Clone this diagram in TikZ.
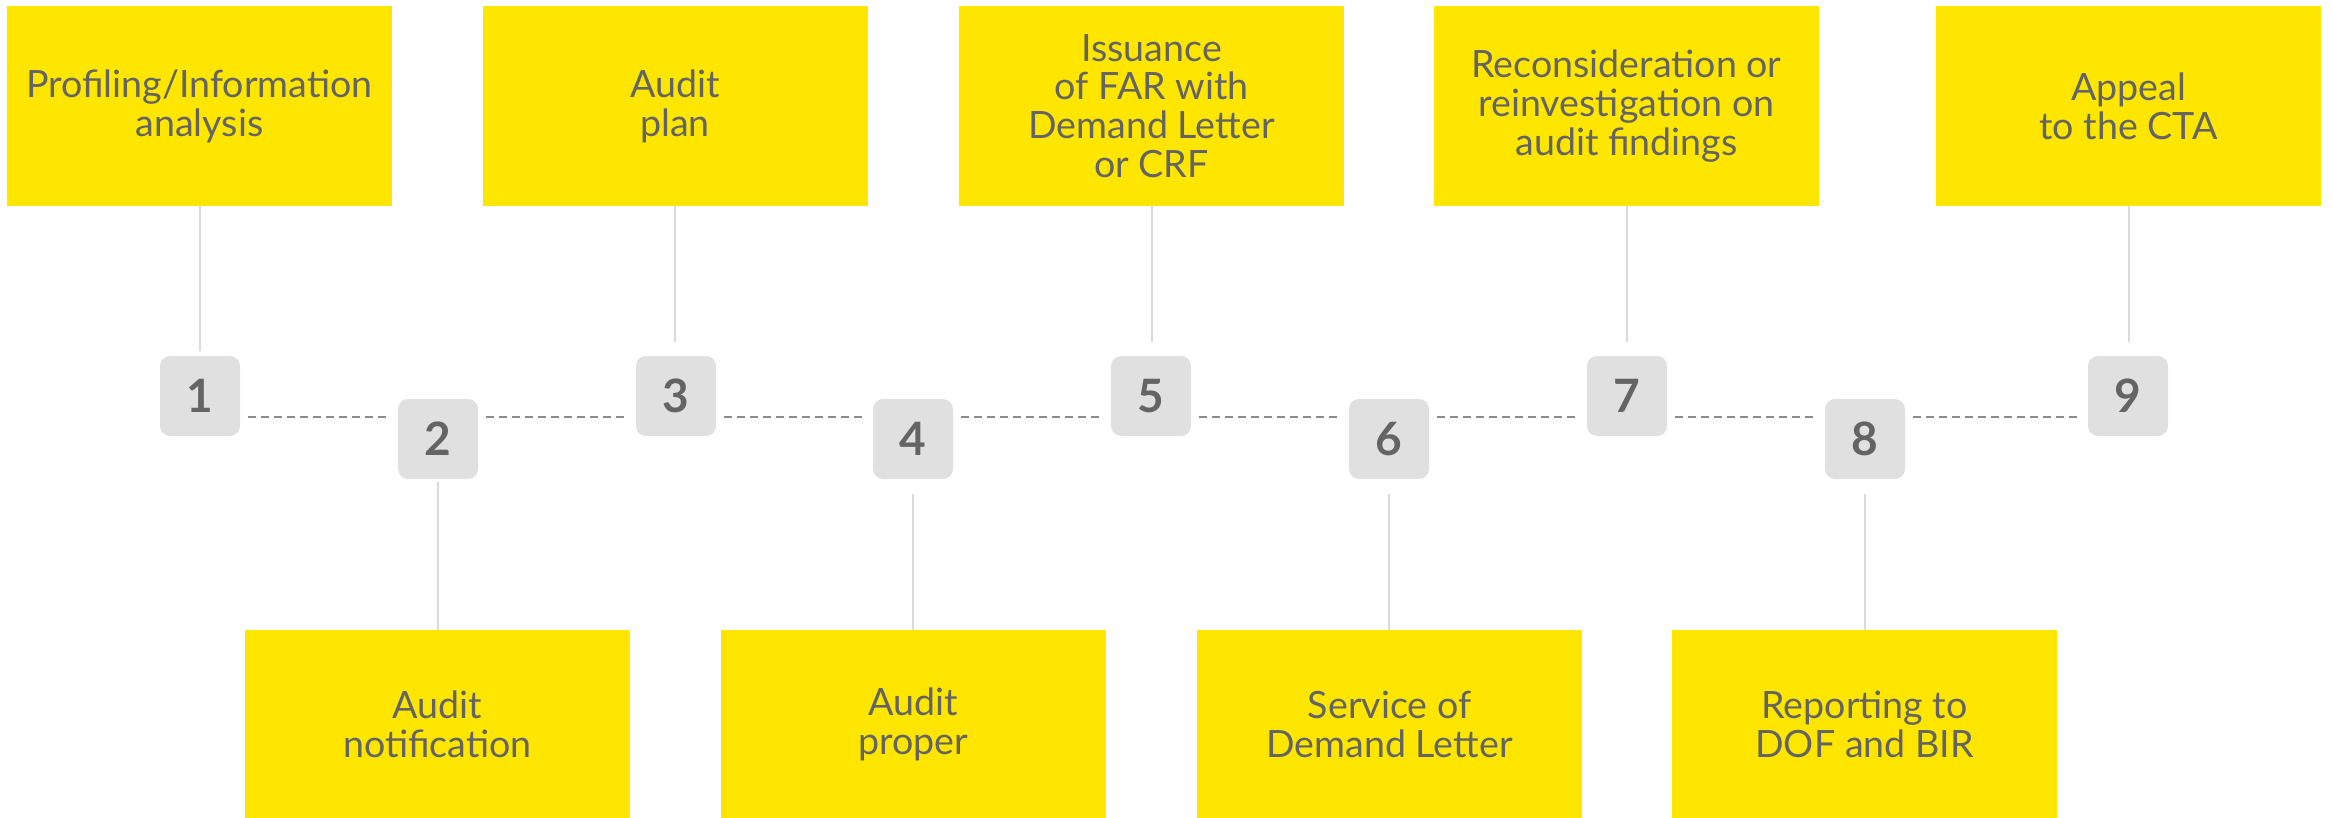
\documentclass[tikz,border=0pt]{standalone}
\usepackage{fontspec}
\setmainfont{Lato}
\definecolor{eyyellow}{HTML}{FFE600}
\definecolor{inkgray}{HTML}{646464}
\definecolor{badgegray}{HTML}{E0E0E0}
\definecolor{stemgray}{HTML}{DADADA}
\definecolor{dashgray}{HTML}{8C8C8C}
\tikzset{
  stepbox/.style={fill=eyyellow, minimum width=192.5pt, inner sep=0pt, align=center,
    text=inkgray, font=\fontsize{18.8}{19.4}\selectfont},
  topbox/.style={stepbox, minimum height=100pt},
  botbox/.style={stepbox, minimum height=94.5pt},
  badge/.style={fill=badgegray, rounded corners=5pt, minimum size=40pt, inner sep=0pt,
    text=inkgray, font=\fontsize{23}{23}\selectfont\bfseries},
  stem/.style={draw=stemgray, line width=1pt},
  link/.style={draw=dashgray, line width=1.2pt, dash pattern=on 4pt off 2.5pt,
    shorten <=4pt, shorten >=5pt},
}
\begin{document}
\begin{tikzpicture}[x=0.5pt, y=-0.5pt]
\useasboundingbox (0,0) rectangle (2332,818);

% step boxes, top row
\node[topbox] (b1) at (199.5,106) {Profiling/Information\\analysis};
\node[topbox] (b3) at (675,106) {Audit\\plan};
\node[topbox] (b5) at (1151.5,106) {Issuance\\of FAR with\\Demand Letter\\or CRF};
\node[topbox] (b7) at (1626.5,106) {Reconsideration or\\reinvestigation on\\audit findings};
\node[topbox] (b9) at (2128.5,106) {Appeal\\to the CTA};

% step boxes, bottom row
\node[botbox] (b2) at (437.5,724.5) {Audit\\notification};
\node[botbox] (b4) at (913,724.5) {Audit\\proper};
\node[botbox] (b6) at (1389.5,724.5) {Service of\\Demand Letter};
\node[botbox] (b8) at (1864.5,724.5) {Reporting to\\DOF and BIR};

% numbered badges
\node[badge] (n1) at (200,396) {1};
\node[badge] (n2) at (438,439) {2};
\node[badge] (n3) at (676,396) {3};
\node[badge] (n4) at (913,439) {4};
\node[badge] (n5) at (1151,396) {5};
\node[badge] (n6) at (1389,439) {6};
\node[badge] (n7) at (1627,396) {7};
\node[badge] (n8) at (1865,439) {8};
\node[badge] (n9) at (2128,396) {9};

% vertical stems from the boxes to the badges
\draw[stem, shorten >=2.5pt] (b1.south) -- (b1.south |- n1.north);
\foreach \i in {3,5,7,9}
  \draw[stem, shorten >=7pt] (b\i.south) -- (b\i.south |- n\i.north);
\draw[stem, shorten <=1.5pt] (n2.south) -- (n2.south |- b2.north);
\foreach \i in {4,6,8}
  \draw[stem, shorten <=7.5pt] (n\i.south) -- (n\i.south |- b\i.north);

% dashed timeline between the badges
\coordinate (mid) at (0,417);
\foreach \a/\b in {1/2,2/3,3/4,4/5,5/6,6/7,7/8,8/9}
  \draw[link] (n\a.east |- mid) -- (n\b.west |- mid);
\end{tikzpicture}
\end{document}
